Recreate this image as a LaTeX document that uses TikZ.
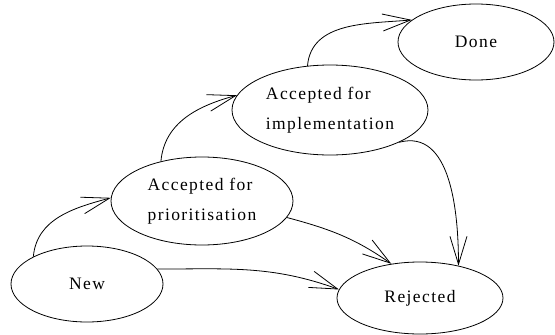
\documentclass[tikz,border=0pt]{standalone}
\usepackage{fontspec}
\setmainfont[LetterSpace=8]{Liberation Serif}
\usetikzlibrary{shapes.geometric,arrows.meta}
\tikzset{
  state/.style={draw, ellipse, line width=0.8pt, inner sep=0pt, align=left,
    font=\fontsize{17.5}{30}\selectfont},
  flow/.style={line width=0.8pt, -{Straight Barb[length=28pt,width=17pt,line width=0.8pt]}}
}
\begin{document}
\begin{tikzpicture}[x=1pt,y=-1pt]
\useasboundingbox (0,0) rectangle (555,335);
\node[state, minimum width=152pt, minimum height=76pt] (new) at (87,284) {New};
\node[state, minimum width=182pt, minimum height=88pt] (prio) at (202,201) {Accepted for\\prioritisation};
\node[state, minimum width=196pt, minimum height=90pt] (impl) at (330,110) {Accepted for\\implementation};
\node[state, minimum width=156pt, minimum height=76pt] (done) at (476,42) {Done};
\node[state, minimum width=166pt, minimum height=72pt] (rej) at (420,298) {Rejected};

\draw[flow] (new.153) to[out=85,in=195] (prio.178);
\draw[flow] (prio.136) to[out=85,in=195] (impl.171);
\draw[flow] (impl.117) to[out=85,in=185] (done.161);
\draw[flow] (impl.-25) to[out=15,in=90] (rej.40);
\draw[flow] (prio.-11) to[out=-15,in=145] (rej.130);
\draw[flow] (new.12) to[out=0,in=160] (rej.174);
\end{tikzpicture}
\end{document}
